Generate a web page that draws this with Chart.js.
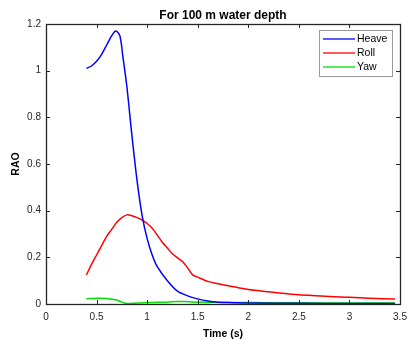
<!DOCTYPE html>
<html>
<head>
<meta charset="utf-8">
<script src="https://cdn.jsdelivr.net/npm/chart.js@4"></script>
<style>
  html, body { margin: 0; padding: 0; background: #fff; }
  #wrap { width: 416px; height: 340px; }
</style>
</head>
<body>
<div id="wrap"><canvas id="rao"></canvas></div>
<script>
// Data
const heaveT = [0.40, 0.45, 0.50, 0.55, 0.60, 0.65, 0.69, 0.73, 0.76, 0.80, 0.85, 0.90, 0.95, 1.00, 1.05, 1.10, 1.20, 1.30, 1.40, 1.50, 1.60, 1.70, 1.80, 2.00, 2.50, 3.00, 3.45];
const heave  = [1.01, 1.02, 1.04, 1.07, 1.11, 1.15, 1.17, 1.15, 1.06, 0.93, 0.72, 0.53, 0.38, 0.28, 0.21, 0.16, 0.10, 0.055, 0.035, 0.022, 0.013, 0.008, 0.006, 0.004, 0.003, 0.002, 0.002];

const rollT = [0.40, 0.45, 0.50, 0.55, 0.60, 0.65, 0.70, 0.75, 0.80, 0.85, 0.90, 0.95, 1.00, 1.05, 1.10, 1.15, 1.20, 1.25, 1.30, 1.35, 1.40, 1.45, 1.50, 1.60, 1.70, 1.80, 1.90, 2.00, 2.20, 2.40, 2.60, 2.80, 3.00, 3.20, 3.45];
const roll  = [0.125, 0.17, 0.21, 0.25, 0.29, 0.32, 0.35, 0.37, 0.382, 0.378, 0.37, 0.36, 0.345, 0.325, 0.295, 0.265, 0.24, 0.215, 0.198, 0.182, 0.155, 0.125, 0.115, 0.097, 0.087, 0.078, 0.07, 0.062, 0.052, 0.043, 0.037, 0.032, 0.029, 0.025, 0.021];

const yawT = [0.40, 0.50, 0.60, 0.70, 0.75, 0.80, 0.90, 1.00, 1.10, 1.20, 1.30, 1.40, 1.50, 1.70, 2.00, 2.50, 3.00, 3.45];
const yaw  = [0.022, 0.025, 0.024, 0.017, 0.008, 0.002, 0.004, 0.006, 0.007, 0.008, 0.011, 0.010, 0.008, 0.007, 0.006, 0.005, 0.004, 0.004];

const seriesNames = ['Heave', 'Roll', 'Yaw'];
const seriesColors = ['#0000ff', '#ff0000', '#00e000'];

const xTicks = [0, 0.5, 1, 1.5, 2, 2.5, 3, 3.5];
const yTicks = [0, 0.2, 0.4, 0.6, 0.8, 1, 1.2];

const axisColor = '#262626';
const font = 'Liberation Sans, Arial, sans-serif';

function toPoints(t, v) {
    return t.map((x, i) => ({ x: x, y: v[i] }));
}

// MATLAB style box with inward ticks on all four sides
const boxPlugin = {
    id: 'box',
    afterDatasetsDraw(chart) {
        const ctx = chart.ctx;
        const a = chart.chartArea;
        const xs = chart.scales.x;
        const ys = chart.scales.y;
        ctx.save();
        ctx.strokeStyle = axisColor;
        ctx.lineWidth = 1;
        ctx.beginPath();
        xTicks.forEach(v => {
            const px = Math.round(xs.getPixelForValue(v)) + 0.5;
            ctx.moveTo(px, a.bottom); ctx.lineTo(px, a.bottom - 4);
            ctx.moveTo(px, a.top); ctx.lineTo(px, a.top + 4);
        });
        yTicks.forEach(v => {
            const py = Math.round(ys.getPixelForValue(v)) + 0.5;
            ctx.moveTo(a.left, py); ctx.lineTo(a.left + 4, py);
            ctx.moveTo(a.right, py); ctx.lineTo(a.right - 4, py);
        });
        ctx.stroke();
        ctx.lineWidth = 1.3;
        ctx.strokeRect(Math.round(a.left) + 0.5, Math.round(a.top) + 0.5,
                       Math.round(a.right - a.left), Math.round(a.bottom - a.top));
        ctx.restore();
    }
};

// boxed legend in the top right corner of the plot
const legendPlugin = {
    id: 'boxLegend',
    afterDraw(chart) {
        const ctx = chart.ctx;
        const a = chart.chartArea;
        const w = 73, h = 46;
        const x0 = a.right - 8 - w, y0 = a.top + 6;
        ctx.save();
        ctx.fillStyle = '#fff';
        ctx.fillRect(x0, y0, w, h);
        ctx.strokeStyle = '#9a9a9a';
        ctx.lineWidth = 1;
        ctx.strokeRect(x0 + 0.5, y0 + 0.5, w, h);
        ctx.font = '10.5px ' + font;
        ctx.textBaseline = 'middle';
        chart.data.datasets.forEach((ds, i) => {
            const y = y0 + 9 + i * 14;
            ctx.strokeStyle = ds.borderColor;
            ctx.lineWidth = 1.3;
            ctx.beginPath();
            ctx.moveTo(x0 + 4, y);
            ctx.lineTo(x0 + 36, y);
            ctx.stroke();
            ctx.fillStyle = '#000';
            ctx.fillText(ds.label, x0 + 38, y);
        });
        ctx.restore();
    }
};

const datasets = [
    toPoints(heaveT, heave),
    toPoints(rollT, roll),
    toPoints(yawT, yaw)
].map((pts, i) => ({
    label: seriesNames[i],
    data: pts,
    borderColor: seriesColors[i],
    borderWidth: 1.5,
    pointRadius: 0,
    tension: 0.3,
    fill: false
}));

const config = {
    type: 'line',
    data: { datasets: datasets },
    options: {
        responsive: true,
        maintainAspectRatio: false,
        animation: false,
        layout: { padding: { top: 0, right: 16, bottom: 0, left: 0 } },
        plugins: {
            legend: { display: false },
            tooltip: { enabled: false },
            title: {
                display: true,
                fullSize: false,
                text: 'For 100 m water depth',
                color: '#000',
                font: { family: font, size: 12, weight: 'bold', lineHeight: 1.2 },
                padding: { top: 8, bottom: 1.6 }
            }
        },
        scales: {
            x: {
                type: 'linear',
                min: 0,
                max: 3.5,
                afterBuildTicks: (s) => { s.ticks = xTicks.map(v => ({ value: v })); },
                afterFit: (s) => { s.height = 36; },
                grid: { display: false, drawTicks: false },
                border: { display: false },
                ticks: {
                    color: '#262626',
                    padding: 7,
                    maxRotation: 0,
                    font: { family: font, size: 10 },
                    callback: (v) => String(v)
                },
                title: {
                    display: true,
                    text: 'Time (s)',
                    color: '#000',
                    padding: { top: 0, bottom: 0 },
                    font: { family: font, size: 10.5, weight: 'bold' }
                }
            },
            y: {
                min: 0,
                max: 1.2,
                afterBuildTicks: (s) => { s.ticks = yTicks.map(v => ({ value: v })); },
                afterFit: (s) => { s.width = 46; },
                grid: { display: false, drawTicks: false },
                border: { display: false },
                ticks: {
                    color: '#262626',
                    padding: 5,
                    font: { family: font, size: 10 },
                    callback: (v) => String(v)
                },
                title: {
                    display: true,
                    text: 'RAO',
                    color: '#000',
                    padding: { top: 10, bottom: 0 },
                    font: { family: font, size: 10.5, weight: 'bold' }
                }
            }
        }
    },
    plugins: [boxPlugin, legendPlugin]
};

new Chart(document.getElementById('rao'), config);
</script>
</body>
</html>
